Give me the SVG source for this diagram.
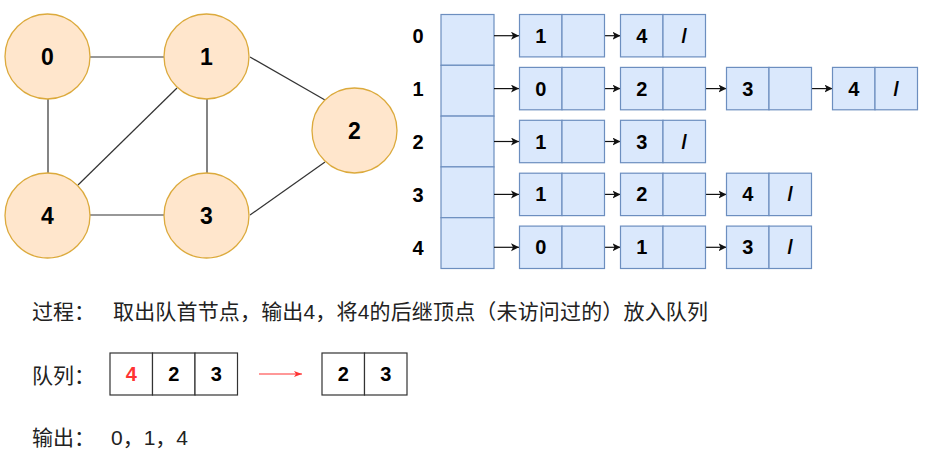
<svg xmlns="http://www.w3.org/2000/svg" width="930" height="462" viewBox="0 0 930 462">
<style>
.c{fill:#ffe6cc;stroke:#dcaa3c;stroke-width:1.3}
.cl{font-family:"Liberation Sans",Arial,sans-serif;font-weight:bold;font-size:23px;fill:#000;text-anchor:middle}
.b{fill:#dae8fc;stroke:#6c8ebf;stroke-width:1.2}
.n{font-family:"Liberation Sans",Arial,sans-serif;font-weight:bold;font-size:20px;fill:#000;text-anchor:middle}
.e{stroke:#333;stroke-width:1.2;fill:none}
.a{stroke:#111;stroke-width:1.2;fill:none;marker-end:url(#ah)}
.q{fill:#fff;stroke:#333;stroke-width:1.2}
.t{font-family:"Liberation Sans","Noto Sans CJK SC",sans-serif;font-size:21px;fill:#222}
</style>
<defs>
<marker id="ah" markerUnits="userSpaceOnUse" markerWidth="10" markerHeight="10" refX="8" refY="4" orient="auto">
<path d="M0,0 L8,4 L0,8 L2,4 z" fill="#111"/>
</marker>
<marker id="rh" markerUnits="userSpaceOnUse" markerWidth="10" markerHeight="10" refX="8" refY="4" orient="auto">
<path d="M0,1 L8,4 L0,7 L2,4 z" fill="#ff3333"/>
</marker>
</defs>
<rect width="930" height="462" fill="#fff"/>

<g id="graph-edges">
<line class="e" x1="90" y1="57" x2="164" y2="57"/>
<line class="e" x1="48" y1="99" x2="48" y2="173"/>
<line class="e" x1="207" y1="99" x2="207" y2="173"/>
<line class="e" x1="90" y1="215" x2="164" y2="215"/>
<line class="e" x1="177" y1="88" x2="78" y2="185"/>
<line class="e" x1="250" y1="57" x2="325" y2="100"/>
<line class="e" x1="325" y1="162" x2="250" y2="215"/>
</g>

<g id="v0"><circle class="c" cx="47.5" cy="56.5" r="42.5"/><text class="cl" x="47.5" y="65">0</text></g>
<g id="v1"><circle class="c" cx="206.5" cy="56.5" r="42.5"/><text class="cl" x="206.5" y="65">1</text></g>
<g id="v2"><circle class="c" cx="354.5" cy="130.5" r="42.5"/><text class="cl" x="354.5" y="139">2</text></g>
<g id="v3"><circle class="c" cx="206.5" cy="215.5" r="42.5"/><text class="cl" x="206.5" y="224">3</text></g>
<g id="v4"><circle class="c" cx="47.5" cy="215.5" r="42.5"/><text class="cl" x="47.5" y="224">4</text></g>

<g id="row-labels">
<text class="n" x="418" y="43">0</text>
<text class="n" x="418" y="96">1</text>
<text class="n" x="418" y="149">2</text>
<text class="n" x="418" y="202">3</text>
<text class="n" x="418" y="255">4</text>
</g>

<g id="head">
<rect class="b" x="441" y="14.5" width="53" height="50.8"/>
<rect class="b" x="441" y="65.3" width="53" height="50.8"/>
<rect class="b" x="441" y="116.1" width="53" height="50.8"/>
<rect class="b" x="441" y="166.9" width="53" height="50.8"/>
<rect class="b" x="441" y="217.7" width="53" height="50.8"/>
</g>

<g id="list-arrows">
<line class="a" x1="494" y1="35.7" x2="519" y2="35.7"/>
<line class="a" x1="604" y1="35.7" x2="620.5" y2="35.7"/>
<line class="a" x1="494" y1="88.6" x2="519" y2="88.6"/>
<line class="a" x1="604" y1="88.6" x2="620.5" y2="88.6"/>
<line class="a" x1="705.5" y1="88.6" x2="726.5" y2="88.6"/>
<line class="a" x1="811.5" y1="88.6" x2="832.5" y2="88.6"/>
<line class="a" x1="494" y1="141.5" x2="519" y2="141.5"/>
<line class="a" x1="604" y1="141.5" x2="620.5" y2="141.5"/>
<line class="a" x1="494" y1="194.4" x2="519" y2="194.4"/>
<line class="a" x1="604" y1="194.4" x2="620.5" y2="194.4"/>
<line class="a" x1="705.5" y1="194.4" x2="726.5" y2="194.4"/>
<line class="a" x1="494" y1="247.3" x2="519" y2="247.3"/>
<line class="a" x1="604" y1="247.3" x2="620.5" y2="247.3"/>
<line class="a" x1="705.5" y1="247.3" x2="726.5" y2="247.3"/>
</g>

<g id="l0a"><rect class="b" x="519.5" y="14.5" width="42.5" height="42.4"/><rect class="b" x="562" y="14.5" width="42.5" height="42.4"/><text class="n" x="540.7" y="42.7">1</text></g>
<g id="l0b"><rect class="b" x="620.5" y="14.5" width="42.5" height="42.4"/><rect class="b" x="663" y="14.5" width="42.5" height="42.4"/><text class="n" x="641.7" y="42.7">4</text><text class="n" x="684.2" y="42.7">/</text></g>

<g id="l1a"><rect class="b" x="519.5" y="67.4" width="42.5" height="42.4"/><rect class="b" x="562" y="67.4" width="42.5" height="42.4"/><text class="n" x="540.7" y="95.6">0</text></g>
<g id="l1b"><rect class="b" x="620.5" y="67.4" width="42.5" height="42.4"/><rect class="b" x="663" y="67.4" width="42.5" height="42.4"/><text class="n" x="641.7" y="95.6">2</text></g>
<g id="l1c"><rect class="b" x="726.5" y="67.4" width="42.5" height="42.4"/><rect class="b" x="769" y="67.4" width="42.5" height="42.4"/><text class="n" x="747.7" y="95.6">3</text></g>
<g id="l1d"><rect class="b" x="832.5" y="67.4" width="42.5" height="42.4"/><rect class="b" x="875" y="67.4" width="42.5" height="42.4"/><text class="n" x="853.7" y="95.6">4</text><text class="n" x="896.2" y="95.6">/</text></g>

<g id="l2a"><rect class="b" x="519.5" y="120.3" width="42.5" height="42.4"/><rect class="b" x="562" y="120.3" width="42.5" height="42.4"/><text class="n" x="540.7" y="148.5">1</text></g>
<g id="l2b"><rect class="b" x="620.5" y="120.3" width="42.5" height="42.4"/><rect class="b" x="663" y="120.3" width="42.5" height="42.4"/><text class="n" x="641.7" y="148.5">3</text><text class="n" x="684.2" y="148.5">/</text></g>

<g id="l3a"><rect class="b" x="519.5" y="173.2" width="42.5" height="42.4"/><rect class="b" x="562" y="173.2" width="42.5" height="42.4"/><text class="n" x="540.7" y="201.4">1</text></g>
<g id="l3b"><rect class="b" x="620.5" y="173.2" width="42.5" height="42.4"/><rect class="b" x="663" y="173.2" width="42.5" height="42.4"/><text class="n" x="641.7" y="201.4">2</text></g>
<g id="l3c"><rect class="b" x="726.5" y="173.2" width="42.5" height="42.4"/><rect class="b" x="769" y="173.2" width="42.5" height="42.4"/><text class="n" x="747.7" y="201.4">4</text><text class="n" x="790.2" y="201.4">/</text></g>

<g id="l4a"><rect class="b" x="519.5" y="226.1" width="42.5" height="42.4"/><rect class="b" x="562" y="226.1" width="42.5" height="42.4"/><text class="n" x="540.7" y="254.3">0</text></g>
<g id="l4b"><rect class="b" x="620.5" y="226.1" width="42.5" height="42.4"/><rect class="b" x="663" y="226.1" width="42.5" height="42.4"/><text class="n" x="641.7" y="254.3">1</text></g>
<g id="l4c"><rect class="b" x="726.5" y="226.1" width="42.5" height="42.4"/><rect class="b" x="769" y="226.1" width="42.5" height="42.4"/><text class="n" x="747.7" y="254.3">3</text><text class="n" x="790.2" y="254.3">/</text></g>

<g id="process">
<text class="t" x="32" y="319">过程：</text>
<text class="t" x="113" y="319" textLength="595" lengthAdjust="spacing">取出队首节点，输出4，将4的后继顶点（未访问过的）放入队列</text>
</g>

<g id="queue-label"><text class="t" x="32" y="383">队列：</text></g>
<g id="queue1">
<rect class="q" x="110" y="353" width="42.5" height="42"/>
<rect class="q" x="152.5" y="353" width="42.5" height="42"/>
<rect class="q" x="195" y="353" width="42.5" height="42"/>
<text class="n" x="131.2" y="381" style="fill:#ff3333">4</text>
<text class="n" x="173.7" y="381">2</text>
<text class="n" x="216.2" y="381">3</text>
</g>
<g id="queue-arrow"><line x1="259" y1="374" x2="302" y2="374" stroke="#ff3333" stroke-width="1.2" marker-end="url(#rh)"/></g>
<g id="queue2">
<rect class="q" x="322" y="353" width="42.5" height="42"/>
<rect class="q" x="364.5" y="353" width="42.5" height="42"/>
<text class="n" x="343.2" y="381">2</text>
<text class="n" x="385.7" y="381">3</text>
</g>

<g id="output">
<text class="t" x="32" y="445">输出：</text>
<text class="t" x="111" y="445">0，1，4</text>
</g>
</svg>
